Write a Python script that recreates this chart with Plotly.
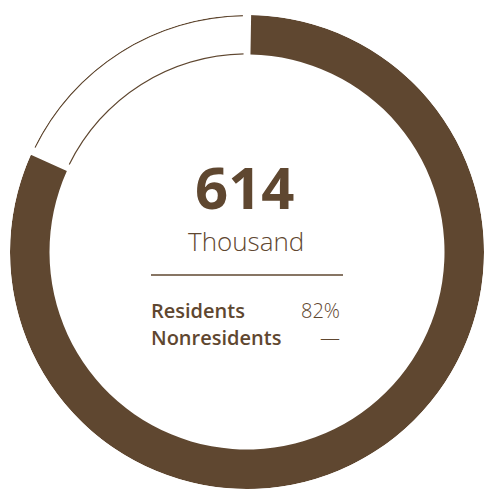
import plotly.graph_objects as go

# Visitor split
groups = ["Residents", "Nonresidents"]
shares = [82, 18]
total_value = "614"
total_unit = "Thousand"
share_labels = ["82%", "—"]

BROWN = "#5f4730"
W, H = 484, 491

# ring geometry (radial axis runs in pixels)
R_AXIS = 237
CX, CY = 247, 252            # centre, measured from top-left
R_IN, R_OUT = 197.5, 237
GAP_DEG = 2.0
OUTLINE = 1.2

total = sum(shares)
spans = [s / total * 360 for s in shares]
starts = [sum(spans[:i]) for i in range(len(spans))]
centres = [a + s / 2 for a, s in zip(starts, spans)]
widths = [s - GAP_DEG for s in spans]

fig = go.Figure()

# filled segment
fig.add_trace(go.Barpolar(
    r=[R_OUT - R_IN], base=[R_IN], theta=[centres[0]], width=[widths[0]],
    marker=dict(color=BROWN, line=dict(width=0)),
    name=groups[0], showlegend=False,
))

# outlined segment: brown band with a white band laid over it
fig.add_trace(go.Barpolar(
    r=[R_OUT - R_IN], base=[R_IN], theta=[centres[1]], width=[widths[1]],
    marker=dict(color=BROWN, line=dict(width=0)),
    name=groups[1], showlegend=False,
))
fig.add_trace(go.Barpolar(
    r=[R_OUT - R_IN - 2 * OUTLINE], base=[R_IN + OUTLINE], theta=[centres[1]],
    width=[widths[1] + 0.5],
    marker=dict(color="white", line=dict(width=0)),
    hoverinfo="skip", showlegend=False,
))

def py(y):
    return 1 - y / H

def px(x):
    return x / W

ann = [
    dict(x=px(245), y=py(187), text=f"<b>{total_value}</b>", xanchor="center", yanchor="middle",
         font=dict(size=58, color=BROWN, family="Open Sans")),
    dict(x=px(246), y=py(241), text=total_unit, xanchor="center", yanchor="middle",
         font=dict(size=26, color=BROWN, family="Open Sans", weight=300)),
    dict(x=px(149), y=py(310), text=groups[0], xanchor="left", yanchor="middle",
         font=dict(size=20, color=BROWN, family="Open Sans", weight=600)),
    dict(x=px(342), y=py(310), text=share_labels[0], xanchor="right", yanchor="middle",
         font=dict(size=20, color=BROWN, family="Open Sans", weight=300)),
    dict(x=px(149), y=py(337), text=groups[1], xanchor="left", yanchor="middle",
         font=dict(size=20, color=BROWN, family="Open Sans", weight=600)),
    dict(x=px(342), y=py(337), text=share_labels[1], xanchor="right", yanchor="middle",
         font=dict(size=20, color=BROWN, family="Open Sans", weight=300)),
]
for a in ann:
    a.update(xref="paper", yref="paper", showarrow=False)

fig.update_layout(
    width=W, height=H, margin=dict(l=0, r=0, t=0, b=0),
    paper_bgcolor="white", plot_bgcolor="white",
    polar=dict(
        domain=dict(x=[px(CX - R_AXIS), px(CX + R_AXIS)],
                    y=[py(CY + R_AXIS), py(CY - R_AXIS)]),
        bgcolor="white",
        radialaxis=dict(range=[0, R_AXIS], visible=False),
        angularaxis=dict(direction="clockwise", rotation=90, visible=False),
        barmode="overlay",
    ),
    annotations=ann,
    shapes=[dict(type="line", xref="paper", yref="paper",
                 x0=px(151), x1=px(343), y0=py(275), y1=py(275),
                 line=dict(color=BROWN, width=1.3))],
)

fig.write_html("out.html")
